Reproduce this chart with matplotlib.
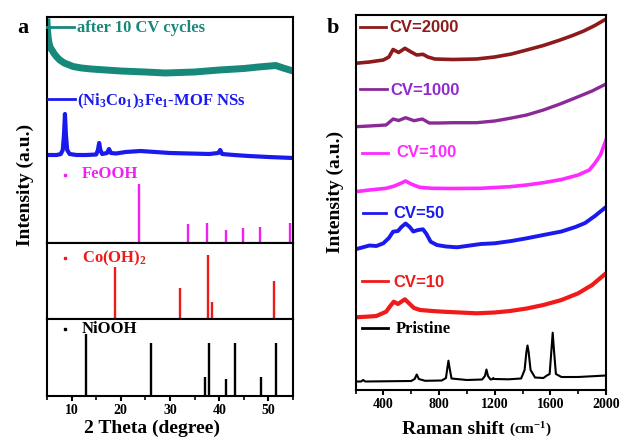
import matplotlib
matplotlib.use('Agg')
import matplotlib.pyplot as plt
from matplotlib.lines import Line2D
from matplotlib.ticker import MultipleLocator

plt.rcParams['font.family'] = ['Liberation Serif', 'DejaVu Serif']
plt.rcParams['font.weight'] = 'bold'
plt.rcParams['mathtext.fontset'] = 'custom'
plt.rcParams['mathtext.rm'] = 'Liberation Serif:bold'
plt.rcParams['mathtext.it'] = 'Liberation Serif:italic:bold'
plt.rcParams['mathtext.bf'] = 'Liberation Serif:bold'

# ---------------- Panel a data (2 Theta, intensity a.u.) ----------------
cv10_theta = [5.0, 5.1, 5.25, 5.45, 5.7, 6.0, 6.5, 7.0, 7.6, 8.5, 10.3, 12, 14, 17,
              20, 25, 29, 35, 40, 45, 48, 51.5, 53, 55]
cv10_int = [221, 213, 205, 199, 195, 193, 189, 186, 183, 180, 176.5, 175, 174, 173,
            172, 171, 170, 171, 173, 174.5, 176, 177.5, 175, 172]

mof_theta = [5, 6, 7, 7.8, 8.2, 8.45, 8.65, 8.85, 9.1, 9.6, 11, 13, 15.0, 15.35, 15.6,
             15.85, 16.2, 17.2, 17.6, 18.0, 19, 21, 24, 27, 30, 34, 38, 39.8, 40.2, 40.6,
             43, 46, 50, 55]
mof_int = [88, 88, 88, 89, 93, 108, 129, 108, 93, 89, 88, 88, 88.5, 93, 100,
           93, 89, 90, 94, 90, 89.5, 91, 92, 91, 90, 89.5, 89, 90, 93, 89,
           88, 87, 86, 85]

feooh_pos = [23.6, 33.6, 37.5, 41.4, 44.9, 48.2, 54.3]
feooh_int = [59, 19, 20, 13, 15, 16, 20]

coh_pos = [18.8, 32.1, 37.7, 38.5, 51.1]
coh_int = [52, 31, 64, 17, 38]

niooh_pos = [12.9, 26.1, 37.1, 38.0, 41.3, 43.3, 48.4, 51.6]
niooh_int = [62, 53, 19, 53, 17, 53, 19, 53]

theta_ticks = [10, 20, 30, 40, 50]

# ---------------- Panel b data (Raman shift, intensity a.u.) ----------------
r2000 = [200, 300, 400, 440, 470, 510, 555, 600, 640, 685, 720, 770, 900, 1070, 1200,
         1320, 1430, 1550, 1670, 1760, 1840, 1920, 2000]
i2000 = [326.7, 328, 330, 333, 340.5, 337.5, 341.7, 338, 335, 335.7, 333, 331, 330.5,
         331, 333, 336, 340, 344.5, 350, 354.5, 359, 364.5, 371]

r1000 = [200, 300, 420, 470, 510, 560, 620, 680, 730, 800, 900, 1070, 1200, 1310, 1430,
         1550, 1670, 1790, 1900, 2000]
i1000 = [263.3, 264, 265, 271, 269.5, 272.3, 269.3, 271, 267, 267, 267.3, 267.3, 269,
         271.7, 275, 280, 286, 292.7, 299, 306]

r100 = [200, 300, 420, 480, 530, 560, 600, 660, 750, 900, 1100, 1310, 1430, 1550, 1680,
        1800, 1880, 1920, 1960, 2000]
i100 = [198.3, 200, 201.7, 204, 207, 209, 206, 202.7, 201.7, 201.5, 201.7, 203.3, 205,
        207.3, 210.5, 215, 220, 226.7, 235, 250]

r50 = [200, 260, 300, 350, 400, 440, 470, 505, 530, 560, 590, 615, 650, 685, 710, 740,
       785, 850, 930, 1100, 1200, 1320, 1430, 1550, 1680, 1780, 1850, 1920, 2000]
i50 = [140.7, 143, 144.5, 144, 146.7, 152, 158.3, 159, 163, 166.5, 163, 158.5, 160, 160.7,
       156, 148.3, 145, 143.5, 142.7, 146, 146.7, 149, 151.7, 155, 158.5, 163, 167, 174, 183]

r10 = [200, 300, 350, 420, 450, 475, 505, 555, 590, 620, 665, 750, 830, 950, 1070, 1200,
       1310, 1430, 1550, 1680, 1800, 1900, 2000]
i10 = [72.7, 73.5, 74, 78.3, 84, 88.3, 86, 90.7, 86, 82, 80, 79, 78.3, 77.5, 76.7, 77.5,
       79, 81.5, 85, 90, 96.7, 105, 116.7]

rpr = [200, 240, 255, 270, 400, 600, 625, 640, 655, 700, 820, 850, 860, 868, 876, 890,
       1000, 1110, 1130, 1141, 1152, 1170, 1185, 1190, 1195, 1300, 1390, 1415, 1428, 1436,
       1444, 1458, 1490, 1550, 1575, 1595, 1608, 1617, 1626, 1640, 1680, 1800, 2000]
ipr = [8.5, 8.5, 10, 8.5, 8.7, 9, 11, 15.5, 11, 9.2, 9.5, 12, 22, 29.3, 22, 11.5,
       10, 10.5, 14, 20.5, 14, 10.5, 11, 12, 11, 10.7, 11.5, 20, 38, 44.5,
       38, 20, 12.5, 12, 14.5, 16, 40, 57.3, 40, 16, 13, 13, 14.5]

raman_ticks = [400, 800, 1200, 1600, 2000]

# ---------------- colours ----------------
c_teal = '#16897b'
c_blue = '#1a1aee'
c_mag = '#f020f0'
c_red = '#ee1a1a'
c_2000 = '#8e1b1b'
c_1000 = '#8a2a96'
c_100 = '#ff2aff'
c_50 = '#1a1aee'
c_10 = '#f01a1a'

W, H = 624, 440
fig = plt.figure(figsize=(6.24, 4.4), dpi=100)


def rect(l, t, r, b):
    return [l / W, 1 - b / H, (r - l) / W, (b - t) / H]


def fx(x):
    return x / W


def fy(y):
    return 1 - y / H


def style(ax, show_x):
    for s in ax.spines.values():
        s.set_linewidth(1.5)
    ax.set_yticks([])
    if show_x:
        ax.tick_params(axis='x', which='major', direction='out', length=3.5, width=1.5,
                       labelsize=10, pad=2)
        ax.tick_params(axis='x', which='minor', direction='out', length=3, width=1.2)
    else:
        ax.set_xticks([])
        ax.tick_params(axis='x', which='both', length=0)


# ---------------- Panel a ----------------
axA1 = fig.add_axes(rect(47, 17, 293, 243))
axA2 = fig.add_axes(rect(47, 243, 293, 319))
axA3 = fig.add_axes(rect(47, 319, 293, 396))

axA1.plot(cv10_theta, cv10_int, color=c_teal, lw=5, solid_joinstyle='round')
axA1.plot(mof_theta, mof_int, color=c_blue, lw=3)
axA1.vlines(feooh_pos, 0, feooh_int, color=c_mag, lw=1.7)
axA1.set_ylim(0, 226)

axA2.vlines(coh_pos, 0, coh_int, color=c_red, lw=1.7)
axA2.set_ylim(0, 76)

axA3.vlines(niooh_pos, 0, niooh_int, color='black', lw=1.7)
axA3.set_ylim(0, 77)

for ax in (axA1, axA2, axA3):
    ax.set_xlim(5, 55)
style(axA1, False)
style(axA2, False)
style(axA3, True)
axA3.set_xticks(theta_ticks)
axA3.xaxis.set_minor_locator(MultipleLocator(5))
for lab in axA3.get_xticklabels():
    lab.set_fontweight('bold')

# ---------------- Panel b ----------------
axB = fig.add_axes(rect(355.5, 15, 606, 390))
axB.plot(r2000, i2000, color=c_2000, lw=2.6)
axB.plot(r1000, i1000, color=c_1000, lw=2.4)
axB.plot(r100, i100, color=c_100, lw=2.6)
axB.plot(r50, i50, color=c_50, lw=2.8)
axB.plot(r10, i10, color=c_10, lw=3.0)
axB.plot(rpr, ipr, color='black', lw=1.5)
axB.set_xlim(200, 2000)
axB.set_ylim(0, 375)
style(axB, True)
axB.set_xticks(raman_ticks)
axB.xaxis.set_minor_locator(MultipleLocator(200))
for lab in axB.get_xticklabels():
    lab.set_fontweight('bold')

# ---------------- labels (legend-like) ----------------
def keyline(x0, x1, y, color, lw=2.0):
    fig.add_artist(Line2D([fx(x0), fx(x1)], [fy(y), fy(y)], color=color, lw=lw,
                          transform=fig.transFigure))


def keydot(x, y, color):
    fig.add_artist(Line2D([fx(x)], [fy(y)], marker='s', ms=1.6, color=color, lw=0,
                          transform=fig.transFigure))


def label(x, y, s, color, size=12, family=None):
    kw = {}
    if family:
        kw['family'] = family
    return fig.text(fx(x), fy(y), s, color=color, fontsize=size, fontweight='bold',
                    ha='left', va='baseline', **kw)


keyline(47, 74, 27, c_teal)
label(77, 32.5, 'after 10 CV cycles', c_teal)
keyline(48, 75, 99, c_blue)
label(77, 105, r'(Ni$_3$Co$_1$)$_3$Fe$_1$-MOF NSs', c_blue)
keydot(65, 175, c_mag)
label(82, 178, 'FeOOH', c_mag)
keydot(65, 258, c_red)
label(82, 262, r'Co(OH)$_2$', c_red)
keydot(65, 329, 'black')
label(82, 333, 'NiOOH', 'black')

sans = ['Liberation Sans', 'DejaVu Sans']
keyline(360, 386, 26.7, c_2000)
label(389, 32.3, 'CV=2000', c_2000, family=sans)
keyline(360, 387, 89.3, c_1000)
label(390, 95, 'CV=1000', '#8f2ad0', family=sans)
keyline(362, 388, 152.7, c_100)
label(396, 157, 'CV=100', c_100, family=sans)
keyline(363, 386, 213.5, c_50)
label(393, 218.3, 'CV=50', c_50, family=sans)
keyline(362, 388, 280.7, c_10)
label(393, 286.7, 'CV=10', c_10, family=sans)
keyline(362, 388, 328.3, 'black')
label(396, 333.3, 'Pristine', 'black')

# panel letters
fig.text(fx(17), fy(33), 'a', fontsize=16, fontweight='bold', ha='left', va='baseline')
fig.text(fx(327), fy(33), 'b', fontsize=16, fontweight='bold', ha='left', va='baseline')

# axis titles
fig.text(fx(152), fy(433), '2 Theta (degree)', fontsize=14, fontweight='bold',
         ha='center', va='baseline')
t1 = fig.text(fx(402), fy(434), 'Raman shift', fontsize=14, fontweight='bold',
              ha='left', va='baseline')
fig.canvas.draw()
bb = t1.get_window_extent()
fig.text((bb.x1 + 5) / W, fy(434), r'(cm$^{-1}$)', fontsize=11, fontweight='bold',
         ha='left', va='baseline')
fig.text(fx(25), fy(185), 'Intensity (a.u.)', fontsize=14, fontweight='bold',
         rotation=90, ha='center', va='center')
fig.text(fx(335), fy(192), 'Intensity (a.u.)', fontsize=14, fontweight='bold',
         rotation=90, ha='center', va='center')

fig.savefig('out.png', dpi=100)
